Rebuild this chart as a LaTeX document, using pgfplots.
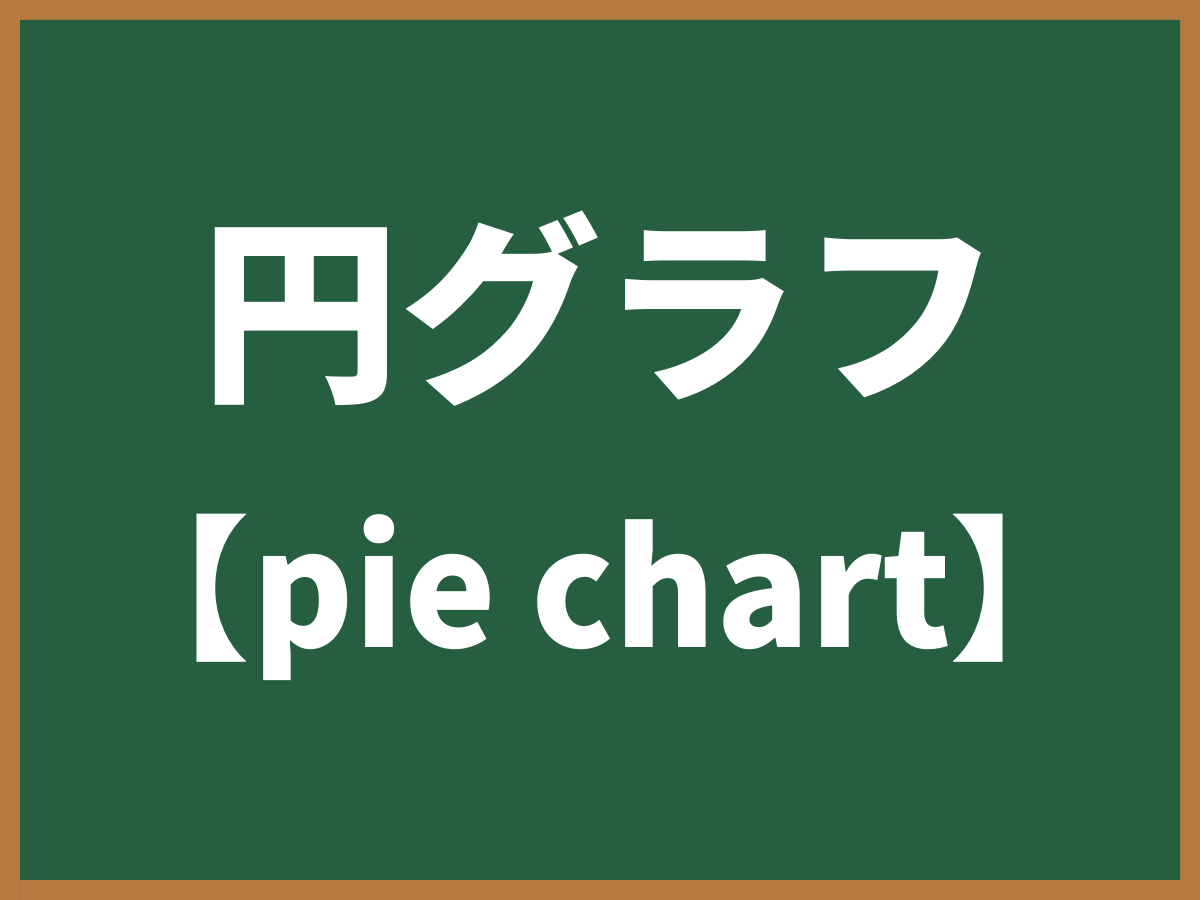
\documentclass[border=0pt]{standalone}
\usepackage{fontspec}
\usepackage{graphicx}
\usepackage{pgfplots}
\pgfplotsset{compat=1.18}
\newfontfamily\cjk{Noto Sans CJK JP}
\definecolor{board}{HTML}{255F40}
\definecolor{frame}{HTML}{B67A40}
\begin{document}
\begin{tikzpicture}
\begin{axis}[
    name=board,
    width=600pt, height=450pt,
    scale only axis,
    xmin=0, xmax=1200, ymin=0, ymax=900,
    hide axis,
    clip=false,
]
% frame and board
\addplot[fill=frame, draw=none] coordinates {(0,0) (1200,0) (1200,900) (0,900) (0,0)} \closedcycle;
\addplot[fill=board, draw=none] coordinates {(20,20) (1180,20) (1180,880) (20,880) (20,20)} \closedcycle;
\node[anchor=base, text=white, inner sep=0pt] at (axis cs:600,513)
    {\cjk\bfseries\fontsize{100}{100}\selectfont 円グラフ};
\node[anchor=base, text=white, inner sep=0pt] at (axis cs:600,252)
    {\cjk\bfseries{\fontsize{78}{78}\selectfont 【}\hspace{1pt}\scalebox{0.967}[1]{\fontsize{80}{80}\selectfont pie chart}\hspace{-1pt}{\fontsize{78}{78}\selectfont 】}};
\end{axis}
\pgfresetboundingbox
\path[use as bounding box] (board.south west) rectangle (board.north east);
\end{tikzpicture}
\end{document}
